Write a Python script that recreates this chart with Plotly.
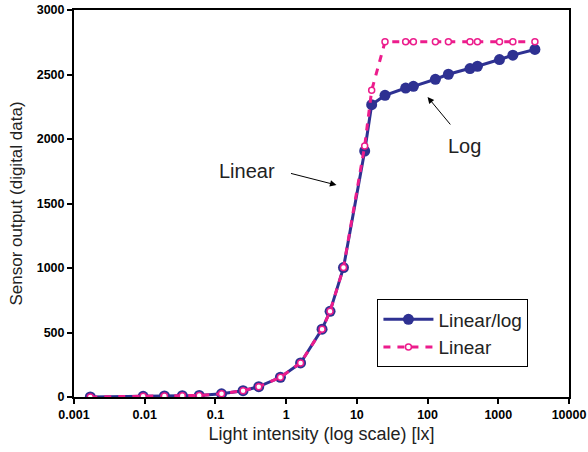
import plotly.graph_objects as go

# Light intensity [lx]
lux = [0.0017, 0.0095, 0.019, 0.034, 0.059, 0.122, 0.246, 0.41, 0.83, 1.6,
       3.22, 4.18, 6.47, 12.9, 16.2, 25, 49, 63, 129, 197, 398, 507, 1040, 1607, 3296]

linear_log = [0, 5, 8, 10, 12, 25, 49, 80, 153, 264,
              526, 664, 1003, 1907, 2266, 2339, 2395, 2408, 2463, 2502, 2546, 2564, 2616, 2650, 2694]

linear = [0, 5, 8, 10, 12, 25, 49, 80, 153, 264,
          526, 664, 1003, 1946, 2377, 2753, 2753, 2753, 2753, 2753, 2753, 2753, 2753, 2753, 2753]

x_tick_vals = [0.001, 0.01, 0.1, 1, 10, 100, 1000, 10000]
x_tick_text = ["0.001", "0.01", "0.1", "1", "10", "100", "1000", "10000"]
y_tick_vals = [0, 500, 1000, 1500, 2000, 2500, 3000]

FONT = "Liberation Sans, Arial, sans-serif"
BLUE = "#2E3192"
PINK = "#EC1C8C"

fig = go.Figure()
fig.add_trace(go.Scatter(
    x=lux, y=linear_log, name="Linear/log", mode="lines+markers",
    line=dict(color=BLUE, width=3),
    marker=dict(color=BLUE, size=11, line=dict(width=0)),
))
fig.add_trace(go.Scatter(
    x=lux, y=linear, name="Linear", mode="lines+markers",
    line=dict(color=PINK, width=3, dash="7px,7px"),
    marker=dict(color="white", size=6, line=dict(color=PINK, width=1.5)),
))

# annotation x positions on a log axis are given in log10 units
fig.add_annotation(x=0.712, y=1643, xref="x", yref="y", ax=-47, ay=-12,
                   text="", showarrow=True, arrowhead=2, arrowsize=1.3,
                   arrowwidth=1, arrowcolor="black")
fig.add_annotation(x=-0.56, y=1754, xref="x", yref="y", text="Linear",
                   showarrow=False, font=dict(size=20, color="#222"),
                   xanchor="center", yanchor="middle")
fig.add_annotation(x=2.0, y=2326, xref="x", yref="y", ax=24, ay=29,
                   text="", showarrow=True, arrowhead=2, arrowsize=1.3,
                   arrowwidth=1, arrowcolor="black")
fig.add_annotation(x=2.52, y=1946, xref="x", yref="y", text="Log",
                   showarrow=False, font=dict(size=20, color="#222"),
                   xanchor="center", yanchor="middle")

axis_common = dict(showline=True, linecolor="black", linewidth=2, mirror=True,
                   ticks="outside", ticklen=5, tickwidth=2, tickcolor="black",
                   showgrid=False, zeroline=False, automargin=False,
                   ticklabeloverflow="allow",
                   tickfont=dict(family=FONT, size=12.5, color="black", weight="bold"))

fig.update_xaxes(type="log", range=[-3, 4], tickvals=x_tick_vals, ticktext=x_tick_text,
                 title=dict(text="Light intensity (log scale) [lx]",
                            font=dict(family=FONT, size=18, color="#222"), standoff=6),
                 **axis_common)
fig.update_yaxes(range=[0, 3000], tickvals=y_tick_vals,
                 title=dict(text="Sensor output (digital data)",
                            font=dict(family=FONT, size=17, color="#222"), standoff=10),
                 **axis_common)

fig.update_layout(
    width=588, height=452,
    margin=dict(l=74, r=19, t=10, b=55),
    paper_bgcolor="white", plot_bgcolor="white",
    font=dict(family=FONT, color="#222"),
    legend=dict(x=0.613, y=0.252, xanchor="left", yanchor="top",
                bordercolor="black", borderwidth=1, bgcolor="white",
                font=dict(size=19, family=FONT, color="#222"),
                itemwidth=50, tracegroupgap=0),
    showlegend=True,
)

# remove the default page margin so the 588x452 figure fills the window exactly
fig.write_html("out.html",
               config={"displayModeBar": False},
               post_script="document.body.style.margin='0';document.body.style.overflow='hidden';")
